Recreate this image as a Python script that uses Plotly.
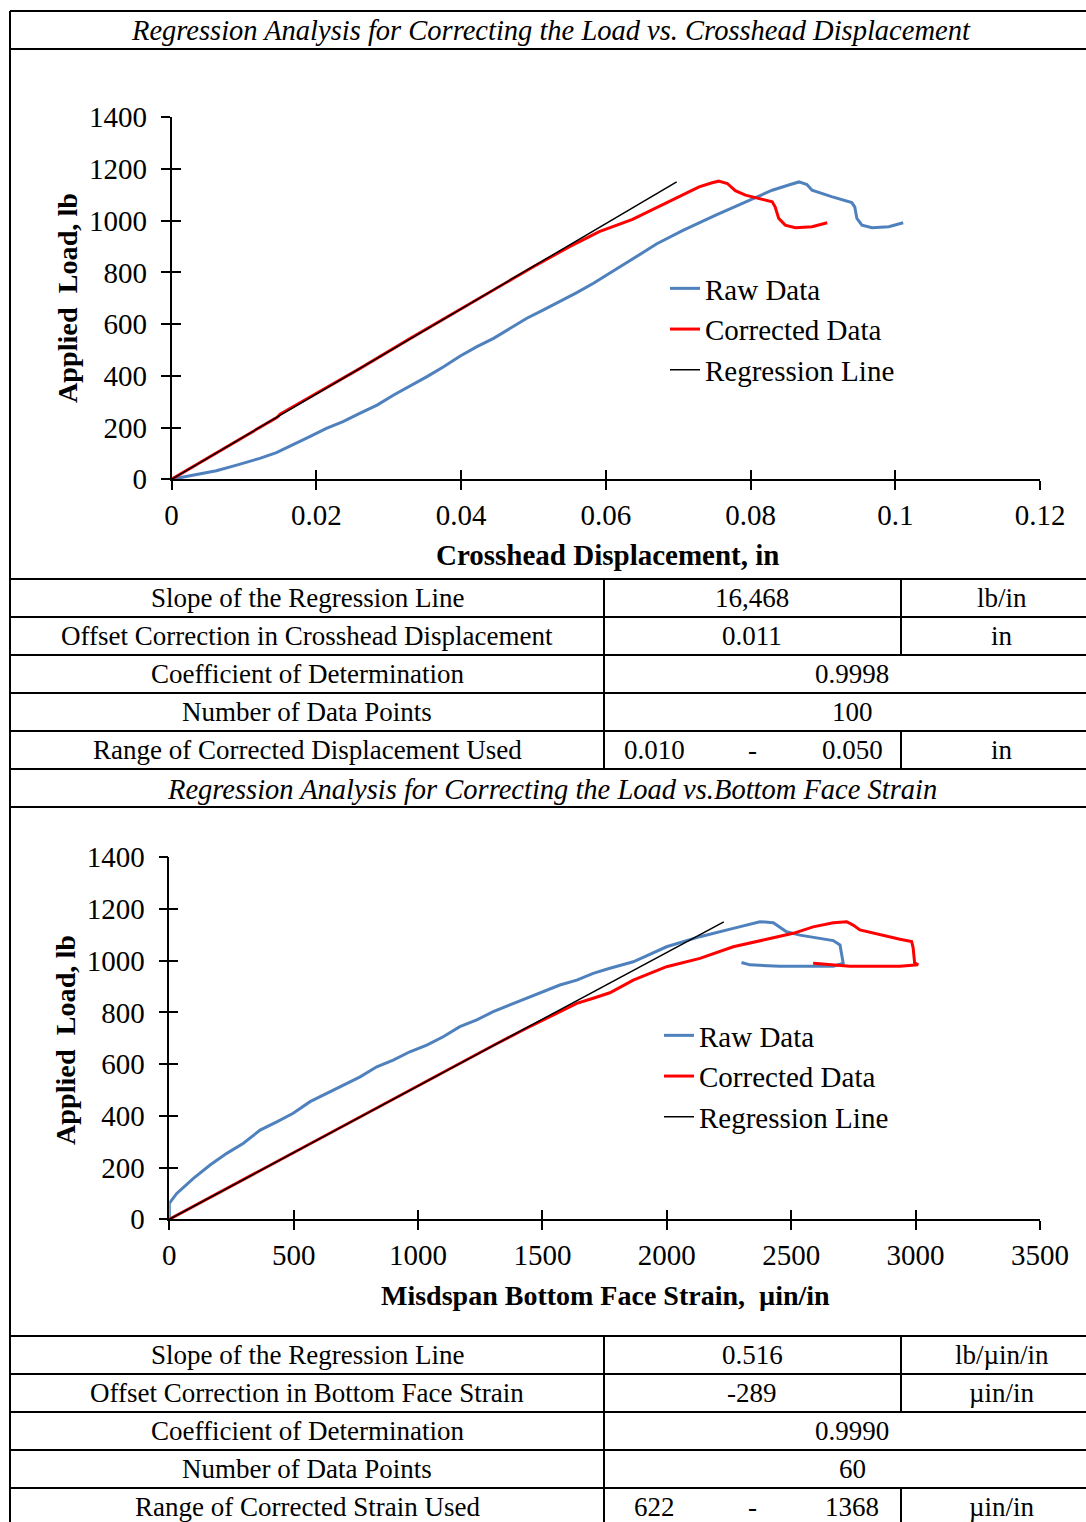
import plotly.graph_objects as go

W, H = 1086, 1522
FONT = "Liberation Serif"
BLUE = "#4F81BD"
RED = "#FF0000"

# ---- chart 1: load vs crosshead displacement ----
raw1_x = [0, 0.003, 0.0062, 0.009, 0.0122, 0.0145, 0.0168, 0.0191, 0.0214, 0.0237, 0.026,
          0.0284, 0.0307, 0.033, 0.0353, 0.0376, 0.0399, 0.0422, 0.0445, 0.0468, 0.0491,
          0.0514, 0.0537, 0.056, 0.0583, 0.0606, 0.0629, 0.0652, 0.067, 0.0706, 0.0752,
          0.0798, 0.083, 0.0855, 0.0867, 0.0878, 0.0885, 0.0912, 0.094, 0.0944, 0.0947,
          0.0954, 0.0968, 0.0991, 0.1011]
raw1_y = [0, 17, 33, 55, 81, 103, 133, 165, 197, 223, 255, 287, 326, 361, 397, 435, 477,
          513, 545, 584, 623, 655, 687, 722, 758, 797, 837, 878, 910, 962, 1022, 1080, 1118,
          1140, 1150, 1140, 1118, 1093, 1070, 1054, 1009, 983, 973, 977, 992]

corr1_x = [0, 0.005, 0.01, 0.0146, 0.015, 0.02, 0.026, 0.033, 0.0398, 0.045, 0.05, 0.055,
           0.0591, 0.0637, 0.0683, 0.0729, 0.0747, 0.0756, 0.0768, 0.0779, 0.0793, 0.0811,
           0.083, 0.0834, 0.0839, 0.0848, 0.0862, 0.0885, 0.0906]
corr1_y = [0, 82, 165, 240, 252, 332, 428, 545, 657, 742, 822, 900, 958, 1005, 1067, 1131,
           1147, 1153, 1144, 1116, 1099, 1086, 1073, 1054, 1009, 983, 973, 977, 992]

reg1_x = [0, 0.0698]
reg1_y = [0, 1150]

# ---- chart 2: load vs bottom face strain ----
raw2_x = [0, 0, 30, 97, 164, 231, 298, 365, 432, 498, 566, 633, 699, 767, 834, 900, 967,
          1035, 1101, 1168, 1236, 1302, 1369, 1437, 1503, 1570, 1638, 1704, 1771, 1865, 1999,
          2133, 2267, 2374, 2428, 2481, 2535, 2669, 2696, 2703, 2709, 2669, 2454, 2334, 2300]
raw2_y = [0, 62, 100, 158, 210, 255, 294, 345, 377, 410, 455, 487, 519, 551, 590, 616, 648,
          674, 706, 745, 771, 803, 829, 855, 880, 906, 925, 951, 971, 996, 1054, 1093, 1125,
          1151, 1147, 1112, 1099, 1078, 1061, 1030, 990, 979, 979, 984, 993]

corr2_x = [0, 499, 633, 767, 901, 1035, 1168, 1302, 1436, 1570, 1638, 1704, 1771, 1865, 1999,
           2133, 2267, 2401, 2508, 2588, 2669, 2723, 2749, 2776, 2843, 2937, 2984, 2990, 2996,
           3010, 2937, 2736, 2588]
corr2_y = [0, 258, 327, 396, 465, 534, 603, 672, 739, 803, 835, 855, 876, 925, 977, 1009,
           1054, 1083, 1106, 1131, 1147, 1151, 1138, 1119, 1103, 1083, 1074, 1050, 992, 984,
           979, 979, 990]

reg2_x = [0, 2229]
reg2_y = [0, 1150]

series_names = ["Raw Data", "Corrected Data", "Regression Line"]

x1_ticks = [0, 0.02, 0.04, 0.06, 0.08, 0.1, 0.12]
x2_ticks = [0, 500, 1000, 1500, 2000, 2500, 3000, 3500]
y_ticks = [0, 200, 400, 600, 800, 1000, 1200, 1400]

table1_labels = ["Slope of the Regression Line", "Offset Correction in Crosshead Displacement",
                 "Coefficient of Determination", "Number of Data Points",
                 "Range of Corrected Displacement Used"]
table1_values = ["16,468", "0.011", "0.9998", "100", None]
table1_units = ["lb/in", "in", None, None, "in"]
table1_range = ["0.010", "0.050"]

table2_labels = ["Slope of the Regression Line", "Offset Correction in Bottom Face Strain",
                 "Coefficient of Determination", "Number of Data Points",
                 "Range of Corrected Strain Used"]
table2_values = ["0.516", "-289", "0.9990", "60", None]
table2_units = ["lb/µin/in", "µin/in", None, None, "µin/in"]
table2_range = ["622", "1368"]

title1 = "Regression Analysis for Correcting the Load vs. Crosshead Displacement"
title2 = "Regression Analysis for Correcting the Load vs.Bottom Face Strain"


def px(x):
    return x / W


def py(y):
    return 1 - y / H


fig = go.Figure()

for xs, ys, ax, lg in [((raw1_x, corr1_x, reg1_x), (raw1_y, corr1_y, reg1_y), ("x", "y"), "legend"),
                       ((raw2_x, corr2_x, reg2_x), (raw2_y, corr2_y, reg2_y), ("x2", "y2"), "legend2")]:
    for i, (name, color, width) in enumerate(zip(series_names, [BLUE, RED, "black"], [3, 3, 1.5])):
        fig.add_trace(go.Scatter(x=xs[i], y=ys[i], mode="lines", name=name,
                                 line=dict(color=color, width=width),
                                 xaxis=ax[0], yaxis=ax[1], legend=lg,
                                 legendgroup=lg + str(i)))

# empty traces so the overlay axes (inner half of the cross ticks) get drawn
fig.add_trace(go.Scatter(x=[], y=[], xaxis="x3", yaxis="y3", showlegend=False))
fig.add_trace(go.Scatter(x=[], y=[], xaxis="x4", yaxis="y4", showlegend=False))

tickfont = dict(family=FONT, size=29, color="black")
base = dict(showgrid=False, zeroline=False, showline=True, linecolor="black", linewidth=1.5,
            ticks="outside", ticklen=9, tickwidth=1.5, tickcolor="black", tickfont=tickfont,
            automargin=False)
inner = dict(showgrid=False, zeroline=False, showline=False, ticks="inside", ticklen=9,
             tickwidth=1.5, tickcolor="black", showticklabels=False, automargin=False)

dom_x1 = [px(171.5), px(1040)]
dom_y1 = [py(479.3), py(117.3)]
dom_x2 = [px(169.3), px(1040)]
dom_y2 = [py(1219.3), py(857.3)]

legend_font = dict(family=FONT, size=29, color="black")

fig.update_layout(
    template="none",
    width=W, height=H, autosize=False,
    margin=dict(l=0, r=0, t=0, b=0, pad=0, autoexpand=False),
    paper_bgcolor="white", plot_bgcolor="rgba(0,0,0,0)",
    font=dict(family=FONT, color="black"),
    xaxis=dict(base, domain=dom_x1, range=[0, 0.12], tickvals=x1_ticks, anchor="y",
               ticklabelstandoff=0),
    yaxis=dict(base, domain=dom_y1, range=[0, 1400], tickvals=y_ticks, anchor="x",
               ticklabelstandoff=8),
    xaxis2=dict(base, domain=dom_x2, range=[0, 3500], tickvals=x2_ticks, anchor="y2",
                ticklabelstandoff=0),
    yaxis2=dict(base, domain=dom_y2, range=[0, 1400], tickvals=y_ticks, anchor="x2",
                ticklabelstandoff=8),
    xaxis3=dict(inner, overlaying="x", anchor="y3", range=[0, 0.12], tickvals=x1_ticks),
    yaxis3=dict(inner, overlaying="y", anchor="x3", range=[0, 1400], tickvals=y_ticks),
    xaxis4=dict(inner, overlaying="x2", anchor="y4", range=[0, 3500], tickvals=x2_ticks),
    yaxis4=dict(inner, overlaying="y2", anchor="x4", range=[0, 1400], tickvals=y_ticks),
    legend=dict(x=px(665), y=py(263), xanchor="left", yanchor="top", font=legend_font,
                bgcolor="rgba(0,0,0,0)", traceorder="grouped", tracegroupgap=0),
    legend2=dict(x=px(659), y=py(1010), xanchor="left", yanchor="top", font=legend_font,
                 bgcolor="rgba(0,0,0,0)", traceorder="grouped", tracegroupgap=0),
    showlegend=True,
)

# table grid
shapes = []
line = dict(color="black", width=2)
for yy in [11, 49, 579, 617, 655, 693, 731, 769, 807, 1336, 1374, 1412, 1450, 1488]:
    shapes.append(dict(type="line", xref="paper", yref="paper", x0=px(10), x1=px(1086),
                       y0=py(yy), y1=py(yy), line=line))
vsegs = [(10, 11, 1522), (604, 579, 769), (604, 1336, 1522),
         (901, 579, 655), (901, 731, 769), (901, 1336, 1412), (901, 1488, 1522)]
for xx, a, b in vsegs:
    shapes.append(dict(type="line", xref="paper", yref="paper", x0=px(xx), x1=px(xx),
                       y0=py(a), y1=py(b), line=line))
fig.update_layout(shapes=shapes)


def text(x, y, s, size=27, angle=0, xanchor="center"):
    fig.add_annotation(x=px(x), y=py(y), xref="paper", yref="paper", text=s, showarrow=False,
                       font=dict(family=FONT, size=size, color="black"), textangle=angle,
                       xanchor=xanchor, yanchor="middle")


text(551, 31, "<i>" + title1 + "</i>", size=28.5)
text(552, 789, "<i>" + title2 + "</i>", size=28.5)

text(67, 298, "<b>Applied  Load, lb</b>", size=28.2, angle=-90)
text(607, 555, "<b>Crosshead Displacement, in</b>", size=29)
text(65, 1040, "<b>Applied  Load, lb</b>", size=28.2, angle=-90)
text(605, 1295, "<b>Misdspan Bottom Face Strain,  µin/in</b>", size=28)

for top, labels, values, units, rng in [(579, table1_labels, table1_values, table1_units, table1_range),
                                        (1336, table2_labels, table2_values, table2_units, table2_range)]:
    for i in range(5):
        yc = top + 38 * i + 19
        text(307, yc, labels[i])
        if values[i] is not None:
            if units[i] is not None:
                text(752, yc, values[i])
                text(1002, yc, units[i])
            else:
                text(852, yc, values[i])
        else:
            text(654, yc, rng[0])
            text(752, yc, "-")
            text(852, yc, rng[1])
            text(1002, yc, units[i])

fig.write_html("out.html", config={"displayModeBar": False},
               post_script="document.body.style.margin='0';"
                           "document.documentElement.style.overflow='hidden';"
                           "document.body.style.overflow='hidden';")
